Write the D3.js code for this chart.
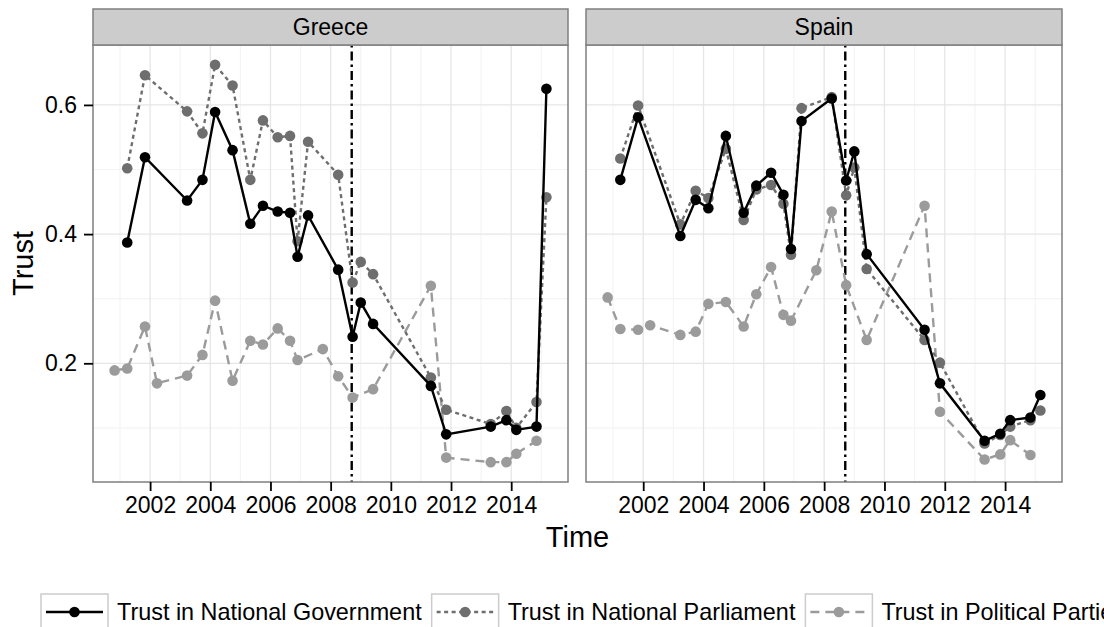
<!DOCTYPE html>
<html>
<head>
<meta charset="utf-8">
<script src="https://cdn.jsdelivr.net/npm/d3@7"></script>
<style>
body { margin: 0; background: #fff; }
svg text { font-family: "Liberation Sans", Arial, Helvetica, sans-serif; fill: #000; }
</style>
</head>
<body>
<svg id="chart" width="1104" height="627"></svg>
<script>
// survey waves (decimal years), shared by both countries
var times = [2000.82, 2001.24, 2001.83, 2002.23, 2003.23, 2003.74, 2004.16, 2004.74, 2005.33, 2005.75,
             2006.24, 2006.65, 2006.90, 2007.25, 2007.74, 2008.25, 2008.73, 2009.00, 2009.41, 2011.33,
             2011.84, 2013.32, 2013.84, 2014.17, 2014.84, 2015.17];

var countries = ["Greece", "Spain"];
var seriesNames = ["Trust in National Government", "Trust in National Parliament", "Trust in Political Parties"];

var greeceGov = [null, 0.387, 0.519, null, 0.452, 0.484, 0.589, 0.530, 0.416, 0.444, 0.435, 0.433, 0.365, 0.429, null, 0.345, 0.241, 0.294, 0.261, 0.165, 0.090, 0.102, 0.112, 0.097, 0.102, 0.625];
var greeceParl = [null, 0.502, 0.646, null, 0.590, 0.556, 0.662, 0.630, 0.484, 0.576, 0.550, 0.552, 0.389, 0.543, null, 0.492, 0.325, 0.357, 0.338, 0.178, 0.128, 0.106, 0.126, 0.100, 0.140, 0.457];
var greeceParties = [0.189, 0.192, 0.257, 0.169, 0.181, 0.213, 0.297, 0.173, 0.235, 0.229, 0.254, 0.235, 0.205, null, 0.222, 0.180, 0.147, null, 0.160, 0.320, 0.054, 0.047, 0.047, 0.060, 0.080, null];

var spainGov = [null, 0.484, 0.581, null, 0.397, 0.453, 0.440, 0.552, 0.433, 0.475, 0.495, 0.461, 0.377, 0.575, null, 0.610, 0.483, 0.528, 0.369, 0.252, 0.169, 0.080, 0.091, 0.112, 0.116, 0.151];
var spainParl = [null, 0.517, 0.599, null, 0.415, 0.467, 0.456, 0.532, 0.422, 0.469, 0.476, 0.447, 0.368, 0.595, null, 0.612, 0.460, 0.503, 0.346, 0.236, 0.201, 0.076, 0.089, 0.102, 0.112, 0.127];
var spainParties = [0.302, 0.253, 0.252, 0.259, 0.244, 0.249, 0.292, 0.295, 0.257, 0.307, 0.349, 0.275, 0.266, null, 0.344, 0.435, 0.321, null, 0.236, 0.444, 0.125, 0.051, 0.059, 0.081, 0.058, null];

var xTicks = [2002, 2004, 2006, 2008, 2010, 2012, 2014];
var xMinor = [2001, 2003, 2005, 2007, 2009, 2011, 2013, 2015];
var yTicks = [0.2, 0.4, 0.6];
var yMinor = [0.1, 0.3, 0.5];
var crisisDate = 2008.7;

var countryData = {
    "Greece": [greeceGov, greeceParl, greeceParties],
    "Spain": [spainGov, spainParl, spainParties]
};

var colors = ["#000000", "#6e6e6e", "#9b9b9b"];
var dashes = [null, "4,3.5", "9,6"];

var svg = d3.select("#chart");

var panels = [{left: 93, right: 568}, {left: 586, right: 1062}];
var panelTop = 45, panelBottom = 482, stripTop = 9;

// shared (fixed) scales, 5% expansion like ggplot
var allVals = [];
countries.forEach(function(c) {
    countryData[c].forEach(function(s) { s.forEach(function(v) { if (v != null) allVals.push(v); }); });
});
var tExt = d3.extent(times), vExt = d3.extent(allVals);
var tPad = (tExt[1] - tExt[0]) * 0.05, vPad = (vExt[1] - vExt[0]) * 0.05;

var y = d3.scaleLinear()
    .domain([vExt[0] - vPad, vExt[1] + vPad])
    .range([panelBottom, panelTop]);

countries.forEach(function(country, ci) {
    var p = panels[ci];
    var x = d3.scaleLinear()
        .domain([tExt[0] - tPad, tExt[1] + tPad])
        .range([p.left, p.right]);

    var g = svg.append("g");

    g.append("rect")
        .attr("x", p.left).attr("y", panelTop)
        .attr("width", p.right - p.left).attr("height", panelBottom - panelTop)
        .attr("fill", "#fff");

    // minor grid
    g.selectAll(".xminor").data(xMinor).enter().append("line")
        .attr("x1", function(d) { return x(d); }).attr("x2", function(d) { return x(d); })
        .attr("y1", panelTop).attr("y2", panelBottom)
        .attr("stroke", "#f4f4f4").attr("stroke-width", 1.2);
    g.selectAll(".yminor").data(yMinor).enter().append("line")
        .attr("x1", p.left).attr("x2", p.right)
        .attr("y1", function(d) { return y(d); }).attr("y2", function(d) { return y(d); })
        .attr("stroke", "#f4f4f4").attr("stroke-width", 1.2);
    // major grid
    g.selectAll(".xmajor").data(xTicks).enter().append("line")
        .attr("x1", function(d) { return x(d); }).attr("x2", function(d) { return x(d); })
        .attr("y1", panelTop).attr("y2", panelBottom)
        .attr("stroke", "#e6e6e6").attr("stroke-width", 1.3);
    g.selectAll(".ymajor").data(yTicks).enter().append("line")
        .attr("x1", p.left).attr("x2", p.right)
        .attr("y1", function(d) { return y(d); }).attr("y2", function(d) { return y(d); })
        .attr("stroke", "#e6e6e6").attr("stroke-width", 1.3);

    // crisis line
    g.append("line")
        .attr("x1", x(crisisDate)).attr("x2", x(crisisDate))
        .attr("y1", panelTop).attr("y2", panelBottom)
        .attr("stroke", "#000").attr("stroke-width", 2.4)
        .attr("stroke-dasharray", "2.5,4,9,4");

    // series, drawn with government on top
    var series = countryData[country];
    [2, 1, 0].forEach(function(si) {
        var pts = [];
        times.forEach(function(t, i) { if (series[si][i] != null) pts.push({t: t, v: series[si][i]}); });
        var line = d3.line()
            .x(function(d) { return x(d.t); })
            .y(function(d) { return y(d.v); });
        g.append("path")
            .datum(pts)
            .attr("d", line)
            .attr("fill", "none")
            .attr("stroke", colors[si])
            .attr("stroke-width", 2.4)
            .attr("stroke-dasharray", dashes[si]);
        g.selectAll(".pt" + si).data(pts).enter().append("circle")
            .attr("cx", function(d) { return x(d.t); })
            .attr("cy", function(d) { return y(d.v); })
            .attr("r", 5.3)
            .attr("fill", colors[si]);
    });

    // panel border
    g.append("rect")
        .attr("x", p.left).attr("y", panelTop)
        .attr("width", p.right - p.left).attr("height", panelBottom - panelTop)
        .attr("fill", "none").attr("stroke", "#7f7f7f").attr("stroke-width", 1.5);

    // strip
    g.append("rect")
        .attr("x", p.left).attr("y", stripTop)
        .attr("width", p.right - p.left).attr("height", panelTop - stripTop)
        .attr("fill", "#cccccc").attr("stroke", "#7f7f7f").attr("stroke-width", 1.5);
    g.append("text")
        .attr("x", (p.left + p.right) / 2).attr("y", (stripTop + panelTop) / 2)
        .attr("dy", "0.36em")
        .attr("text-anchor", "middle")
        .style("font-size", "23px")
        .text(country);

    // x axis
    var xAxis = d3.axisBottom(x).tickValues(xTicks).tickFormat(d3.format("d")).tickSize(9).tickPadding(6);
    var ax = g.append("g")
        .attr("transform", "translate(0," + panelBottom + ")")
        .call(xAxis);
    ax.select(".domain").remove();
    ax.selectAll(".tick line").attr("stroke", "#000").attr("stroke-width", 1.8);
    ax.selectAll(".tick text").style("font-size", "23px").attr("fill", "#000");

    if (ci == 0) {
        var yAxis = d3.axisLeft(y).tickValues(yTicks).tickFormat(d3.format(".1f")).tickSize(9).tickPadding(7);
        var ay = g.append("g")
            .attr("transform", "translate(" + p.left + ",0)")
            .call(yAxis);
        ay.select(".domain").remove();
        ay.selectAll(".tick line").attr("stroke", "#000").attr("stroke-width", 1.8);
        ay.selectAll(".tick text").style("font-size", "23px").attr("fill", "#000");
    }
});

// axis titles
svg.append("text")
    .attr("x", (panels[0].left + panels[1].right) / 2)
    .attr("y", 547)
    .attr("text-anchor", "middle")
    .style("font-size", "29px")
    .text("Time");

svg.append("text")
    .attr("transform", "translate(23," + ((panelTop + panelBottom) / 2) + ") rotate(-90)")
    .attr("dy", "0.36em")
    .attr("text-anchor", "middle")
    .style("font-size", "29px")
    .text("Trust");

// legend
var legendTop = 594, keyW = 67, keyMid = 612;
var lx = 41;
seriesNames.forEach(function(name, si) {
    var lg = svg.append("g");
    lg.append("rect")
        .attr("x", lx).attr("y", legendTop)
        .attr("width", keyW).attr("height", 50)
        .attr("fill", "#fff").attr("stroke", "#cccccc").attr("stroke-width", 1.5);
    lg.append("line")
        .attr("x1", lx + 5).attr("x2", lx + keyW - 5)
        .attr("y1", keyMid).attr("y2", keyMid)
        .attr("stroke", colors[si]).attr("stroke-width", 2.4)
        .attr("stroke-dasharray", dashes[si]);
    lg.append("circle")
        .attr("cx", lx + keyW / 2).attr("cy", keyMid)
        .attr("r", 5.3).attr("fill", colors[si]);
    var t = lg.append("text")
        .attr("x", lx + keyW + 9).attr("y", keyMid)
        .attr("dy", "0.36em")
        .style("font-size", "23.4px")
        .text(name);
    lx = lx + keyW + 9 + t.node().getComputedTextLength() + 10;
});
</script>
</body>
</html>
